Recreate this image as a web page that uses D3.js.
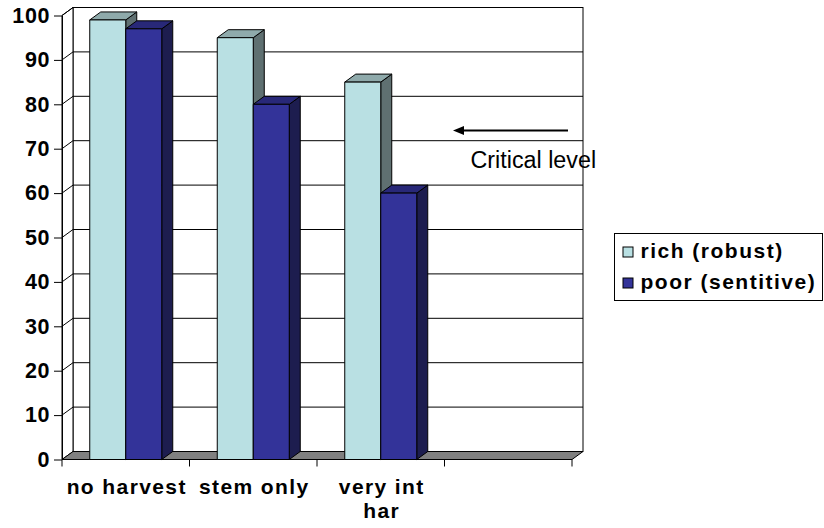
<!DOCTYPE html>
<html>
<head>
<meta charset="utf-8">
<script src="https://cdn.jsdelivr.net/npm/d3@7/dist/d3.min.js"></script>
<style>
  html, body { margin: 0; padding: 0; background: #fff; }
  svg { display: block; }
  text { font-family: "Liberation Sans", Arial, Helvetica, sans-serif; fill: #000; }
</style>
</head>
<body>
<svg id="chart" width="824" height="528"></svg>
<script>
// Harvest intensity categories ("\n" marks a line break in the label)
const categories = ["no harvest", "stem only", "very int\nhar", ""];
const seriesNames = ["rich (robust)", "poor (sentitive)"];
const richValues = [99, 95, 85, null];
const poorValues = [97, 80, 60, null];
const yTickValues = [0, 10, 20, 30, 40, 50, 60, 70, 80, 90, 100];
const annotationText = "Critical level";

// colours per series: front, top, side
const palette = [
  { front: "#b9e0e3", top: "#8faaab", side: "#5f7071" },
  { front: "#333399", top: "#282878", side: "#1d1d4f" }
];

const svg = d3.select("#chart");
const depth = { dx: 11, dy: -8 };

const y = d3.scaleLinear().domain([0, 100]).range([459.5, 15.5]);
const x = d3.scaleBand().domain(categories).range([62, 572]).padding(0);
const pairWidth = 72;
const xs = d3.scaleBand().domain(seriesNames).range([0, pairWidth]).padding(0);

const xL = x.range()[0], xR = x.range()[1];
const y0 = y(0), yTop = y(100);

// back wall
svg.append("rect")
  .attr("x", xL + depth.dx).attr("y", yTop + depth.dy)
  .attr("width", xR - xL).attr("height", y0 - yTop)
  .attr("fill", "#fff").attr("stroke", "#000");

// side wall
svg.append("polygon")
  .attr("points", [[xL, y0], [xL, yTop], [xL + depth.dx, yTop + depth.dy], [xL + depth.dx, y0 + depth.dy]].join(" "))
  .attr("fill", "#fff").attr("stroke", "#000");

// gridlines on the walls
const grid = svg.append("g").attr("stroke", "#000").attr("stroke-width", 1);
yTickValues.filter(t => t > 0).forEach(t => {
  grid.append("line")
    .attr("x1", xL + depth.dx).attr("x2", xR + depth.dx)
    .attr("y1", y(t) + depth.dy).attr("y2", y(t) + depth.dy);
  grid.append("line")
    .attr("x1", xL).attr("x2", xL + depth.dx)
    .attr("y1", y(t)).attr("y2", y(t) + depth.dy);
});

// floor
svg.append("polygon")
  .attr("points", [[xL, y0], [xR, y0], [xR + depth.dx, y0 + depth.dy], [xL + depth.dx, y0 + depth.dy]].join(" "))
  .attr("fill", "#808080").attr("stroke", "#000");

// value axis
const yAxis = svg.append("g")
  .attr("transform", `translate(${xL},0)`)
  .call(d3.axisLeft(y).tickValues(yTickValues).tickSize(8).tickSizeOuter(0).tickPadding(4).tickFormat(d3.format("d")));
yAxis.select(".domain").attr("stroke", "#000");
yAxis.selectAll(".tick line").attr("stroke", "#000");
yAxis.selectAll(".tick text")
  .attr("font-size", 21.5).attr("font-weight", "bold").attr("letter-spacing", 0.6)
  .attr("font-family", "'Liberation Sans', Arial, sans-serif").attr("fill", "#000");

// category boundary ticks
const boundaries = categories.map(c => x(c)).concat([xR]);
svg.append("g").selectAll("line").data(boundaries).join("line")
  .attr("x1", d => d).attr("x2", d => d)
  .attr("y1", y0).attr("y2", y0 + 7)
  .attr("stroke", "#000");

// category labels
const labels = svg.append("g").selectAll("text").data(categories).join("text")
  .attr("x", d => x(d) + x.bandwidth() / 2)
  .attr("y", 494)
  .attr("text-anchor", "middle")
  .attr("font-size", 21).attr("font-weight", "bold")
  .attr("letter-spacing", 1.4);
labels.each(function (d) {
  const t = d3.select(this);
  d.split("\n").forEach((line, i) => {
    t.append("tspan").attr("x", x(d) + x.bandwidth() / 2 + 1).attr("dy", i === 0 ? 0 : 24).text(line);
  });
});

// 3D columns
const seriesValues = [richValues, poorValues];
const barsG = svg.append("g");
categories.forEach((c, ci) => {
  const left = x(c) + (x.bandwidth() - pairWidth) / 2;
  seriesNames.forEach((s, si) => {
    const v = seriesValues[si][ci];
    if (v == null) return;
    const bx = left + xs(s), bw = xs.bandwidth(), by = y(v);
    const col = palette[si];
    const g = barsG.append("g").attr("stroke", "#000").attr("stroke-width", 1).attr("stroke-linejoin", "round");
    g.append("polygon")
      .attr("points", [[bx + bw, by], [bx + bw + depth.dx, by + depth.dy], [bx + bw + depth.dx, y0 + depth.dy], [bx + bw, y0]].join(" "))
      .attr("fill", col.side);
    g.append("polygon")
      .attr("points", [[bx, by], [bx + depth.dx, by + depth.dy], [bx + bw + depth.dx, by + depth.dy], [bx + bw, by]].join(" "))
      .attr("fill", col.top);
    g.append("rect")
      .attr("x", bx).attr("y", by).attr("width", bw).attr("height", y0 - by)
      .attr("fill", col.front);
  });
});

// critical level annotation: arrow pointing left
const arrowY = 130.5, arrowTip = 453, arrowTail = 568;
svg.append("line")
  .attr("x1", arrowTail).attr("x2", arrowTip + 8).attr("y1", arrowY).attr("y2", arrowY)
  .attr("stroke", "#000").attr("stroke-width", 2);
svg.append("polygon")
  .attr("points", [[arrowTip, arrowY], [arrowTip + 11, arrowY - 4.5], [arrowTip + 11, arrowY + 4.5]].join(" "))
  .attr("fill", "#000");
svg.append("text")
  .attr("x", 470.5).attr("y", 167.5)
  .attr("font-size", 23.3)
  .text(annotationText);

// legend
const legend = svg.append("g").attr("transform", "translate(614.5,233.5)");
legend.append("rect").attr("width", 208).attr("height", 67)
  .attr("fill", "#fff").attr("stroke", "#000");
seriesNames.forEach((s, i) => {
  const row = legend.append("g").attr("transform", `translate(0,${13 + i * 31})`);
  row.append("rect").attr("x", 8.5).attr("y", 0.5).attr("width", 10).attr("height", 10)
    .attr("fill", palette[i].front).attr("stroke", "#000");
  row.append("text").attr("x", 26).attr("y", 11)
    .attr("font-size", 21).attr("font-weight", "bold").attr("letter-spacing", 1.5)
    .text(s);
});
</script>
</body>
</html>
